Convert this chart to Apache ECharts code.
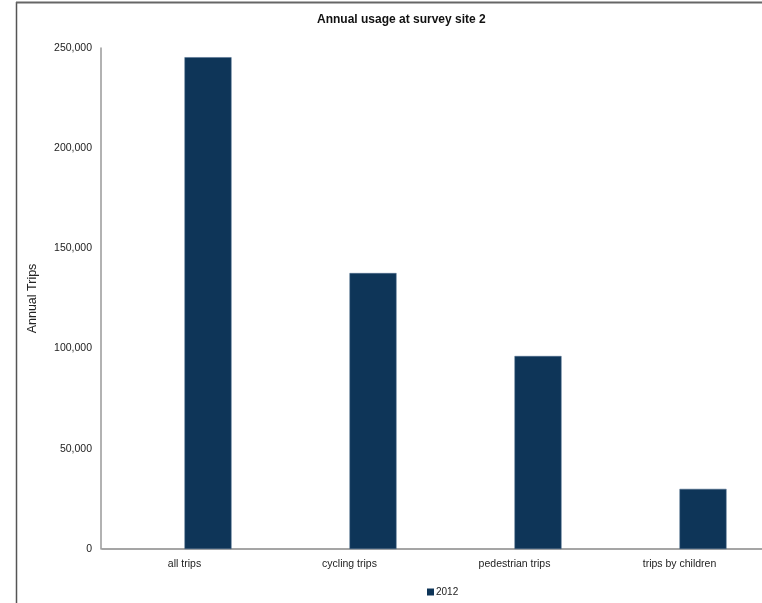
<!DOCTYPE html>
<html><head><meta charset="utf-8">
<script src="https://cdn.jsdelivr.net/npm/echarts@6/dist/echarts.min.js"></script>
<style>html,body{margin:0;padding:0;background:#fff}#c{width:762px;height:603px}</style>
</head><body><div id="c"></div>
<script>
const categories = ["all trips", "cycling trips", "pedestrian trips", "trips by children"];
const values2012 = [245400, 137700, 96300, 30000];
const spacer = [null, null, null, null];
const yTicks = { min: 0, max: 250000, interval: 50000 };

const chart = echarts.init(document.getElementById('c'));
chart.setOption({
  animation: false,
  textStyle: { fontFamily: 'Liberation Sans, Arial, sans-serif' },
  title: {
    text: 'Annual usage at survey site 2',
    left: 312, top: 9,
    textStyle: { fontSize: 12, fontWeight: 'bold', color: '#111', fontFamily: 'Liberation Sans, Arial, sans-serif' }
  },
  graphic: [
    { type: 'line', shape: { x1: 16.5, y1: 2, x2: 16.5, y2: 603 }, style: { stroke: '#555', lineWidth: 1.5 } },
    { type: 'line', shape: { x1: 16, y1: 2.5, x2: 762, y2: 2.5 }, style: { stroke: '#666', lineWidth: 2 } }
  ],
  legend: {
    data: ['2012'], left: 422, top: 582, icon: 'rect', itemWidth: 7, itemHeight: 7, itemGap: 2,
    itemStyle: { borderWidth: 0 },
    textStyle: { fontSize: 10, color: '#222', padding: [0, 0, 0, -3] }
  },
  grid: { left: 102, right: -4, top: 48, bottom: 54, containLabel: false },
  xAxis: {
    type: 'category', data: categories,
    axisLine: { lineStyle: { color: '#888', width: 1.5 } },
    axisTick: { show: false },
    axisLabel: { fontSize: 10.5, color: '#222', margin: 10 },
    splitLine: { show: false }
  },
  yAxis: {
    type: 'value', min: yTicks.min, max: yTicks.max, interval: yTicks.interval,
    offset: 1,
    name: 'Annual Trips', nameLocation: 'middle', nameRotate: 90, nameGap: 62,
    nameTextStyle: { fontSize: 12.5, color: '#222' },
    axisLine: { show: true, lineStyle: { color: '#999', width: 1.5 } },
    axisTick: { show: false },
    splitLine: { show: false },
    axisLabel: { fontSize: 10.5, color: '#222', margin: 9,
      formatter: v => v.toLocaleString('en-US') }
  },
  series: [
    { name: 'spacer', type: 'bar', data: spacer, barWidth: 47, barGap: 0 },
    { name: '2012', type: 'bar', data: values2012, barWidth: 47, barGap: 0,
      itemStyle: { color: '#0e3558', borderColor: '#4a6a8a', borderWidth: 0.5 } }
  ]
});
</script></body></html>
